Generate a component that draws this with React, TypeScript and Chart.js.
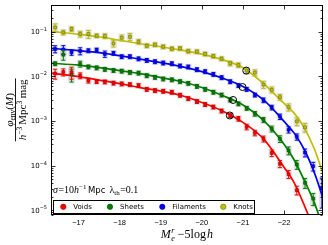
import React, { useEffect, useRef } from 'react';
import { Chart, registerables } from 'chart.js';
Chart.register(...registerables);

// ---- data ----
const mags = [-16.43,-16.63,-16.83,-17.04,-17.24,-17.44,-17.64,-17.85,-18.05,-18.25,-18.46,-18.66,-18.86,-19.06,-19.27,-19.47,-19.67,-19.88,-20.08,-20.28,-20.48,-20.69,-20.89,-21.09,-21.29,-21.50,-21.70,-21.90,-22.11,-22.31,-22.51,-22.71,-22.92];

const voids = [0.01155,0.01247,0.01234,0.01042,0.00805,0.00766,0.00754,0.00709,0.0068,0.00656,0.00623,0.00513,0.00482,0.00465,0.00442,0.00379,0.00319,0.00274,0.00235,0.00206,0.00168,0.00133,0.001125,0.000738,0.000542,0.000398,0.000192,0.00011,6.43e-5,2.82e-5];
const voidsErr = [0.25,0.18,0.3,0.15,0.12,0.1,0.1,0.1,0.1,0.1,0.1,0.1,0.1,0.1,0.1,0.1,0.1,0.1,0.1,0.1,0.1,0.1,0.12,0.14,0.14,0.15,0.17,0.18,0.2,0.22];

const sheets = [0.0193,0.0307,0.01097,0.019,0.01637,0.01556,0.0144,0.01361,0.01313,0.01234,0.01186,0.01042,0.00955,0.00879,0.0084,0.00766,0.00698,0.00598,0.00513,0.00442,0.00383,0.00296,0.00243,0.00193,0.001455,0.001059,0.000667,0.000398,0.000218,0.000106,4.11e-5,1.82e-5];
const sheetsErr = [0.1,0.25,0.32,0.15,0.1,0.1,0.1,0.1,0.1,0.1,0.1,0.1,0.1,0.1,0.1,0.1,0.1,0.1,0.1,0.1,0.1,0.1,0.1,0.1,0.12,0.13,0.15,0.17,0.2,0.22,0.25,0.3];

const filaments = [0.0411,0.0401,0.0345,0.0371,0.0377,0.039,0.0318,0.0331,0.0277,0.0277,0.0248,0.0229,0.0214,0.02,0.0193,0.01715,0.0163,0.01419,0.0128,0.01114,0.0094,0.00762,0.00624,0.00513,0.00383,0.00293,0.00201,0.001253,0.00064,0.000442,0.000196,9.7e-5,3.18e-5];
const filamentsErr = [0.18,0.22,0.14,0.18,0.1,0.1,0.16,0.1,0.1,0.1,0.1,0.1,0.1,0.1,0.1,0.1,0.1,0.1,0.1,0.1,0.1,0.1,0.1,0.1,0.1,0.12,0.12,0.14,0.16,0.16,0.2,0.22,0.65];

const knots = [0.1247,0.0965,0.1148,0.0889,0.0889,0.0814,0.0802,0.0548,0.0735,0.0773,0.0598,0.0487,0.0513,0.0463,0.0417,0.0424,0.0367,0.0358,0.0318,0.0284,0.0249,0.0196,0.0179,0.01347,0.01216,0.00656,0.005,0.00342,0.00204,0.00098,0.00072];
const knotsErr = [0.2,0.12,0.12,0.15,0.2,0.1,0.12,0.17,0.15,0.18,0.12,0.1,0.1,0.1,0.1,0.1,0.1,0.1,0.1,0.1,0.1,0.12,0.12,0.15,0.15,0.18,0.15,0.15,0.18,0.2,0.22];

const fitMags = [-16.3,-17,-17.5,-18,-18.5,-19,-19.5,-20,-20.5,-21,-21.5,-22,-22.25,-22.5,-22.75,-23];
const voidsFit = [0.01186,0.0099,0.00827,0.0069,0.00562,0.0047,0.00373,0.0026,0.00168,0.000931,0.000398,9.2e-5,4.05e-5,1.24e-5,3.26e-6,7.0e-7];
const sheetsFit = [0.0198,0.01787,0.01572,0.01347,0.01155,0.0094,0.00766,0.00562,0.00373,0.00229,0.00103,0.0003,0.000132,4.49e-5,1.37e-5,2.79e-6];
const filamentsFit = [0.0428,0.0377,0.034,0.0291,0.0243,0.0203,0.01656,0.0128,0.00916,0.00592,0.00296,0.00098,0.000528,0.000221,6.43e-5,1.31e-5];
const knotsFit = [0.1026,0.0879,0.0773,0.0646,0.0539,0.0462,0.0386,0.0315,0.0237,0.0157,0.0069,0.00247,0.00148,0.000684,0.000221,4.72e-5];

const mStar = [-20.68, -20.76, -20.99, -21.08];
const phiStar = [0.00133, 0.00296, 0.00577, 0.01347];

const seriesNames = ['Voids', 'Sheets', 'Filaments', 'Knots'];
const seriesColors = ['#ff0000', '#008000', '#0000ff', '#bfbf00'];
const seriesEdge = ['#990000', '#004d00', '#000099', '#6b6b00'];

const xTicks = [-17, -18, -19, -20, -21, -22];
const yTickExps = [-5, -4, -3, -2, -1];
const xRange = [-22.94, -16.33];
const yRange = [7.94e-6, 0.398];

const SERIF = '"Liberation Serif", "DejaVu Serif", serif';
const SANS = '"DejaVu Sans", sans-serif';

type Run = { t: string; f: string; dy?: number; dx?: number; noAdv?: boolean };

function runsWidth(ctx: CanvasRenderingContext2D, runs: Run[]) {
  let w = 0;
  for (const r of runs) {
    ctx.font = r.f;
    w += (r.dx || 0);
    if (!r.noAdv) w += ctx.measureText(r.t).width;
  }
  return w;
}
function drawRuns(ctx: CanvasRenderingContext2D, runs: Run[], x: number, y: number) {
  let cx = x;
  for (const r of runs) {
    ctx.font = r.f;
    cx += (r.dx || 0);
    ctx.fillText(r.t, cx, y + (r.dy || 0));
    if (!r.noAdv) cx += ctx.measureText(r.t).width;
  }
}

function clipArea(ctx: CanvasRenderingContext2D, a: any) {
  ctx.beginPath();
  ctx.rect(a.left, a.top, a.right - a.left, a.bottom - a.top);
  ctx.clip();
}

const decor = {
  id: 'decor',
  beforeDatasetsDraw(chart: any) {
    // light halo behind every error bar
    const ctx: CanvasRenderingContext2D = chart.ctx;
    const xs = chart.scales.x, ys = chart.scales.y;
    ctx.save();
    clipArea(ctx, chart.chartArea);
    ctx.fillStyle = 'rgba(160,160,160,0.3)';
    chart.data.datasets.forEach((ds: any) => {
      if (!ds.errs) return;
      ds.data.forEach((p: any, i: number) => {
        const e = ds.errs[i];
        const px = xs.getPixelForValue(p.x);
        const hi = ys.getPixelForValue(p.y * (1 + e));
        const lo = ys.getPixelForValue(p.y * (1 - e));
        ctx.fillRect(px - 3.2, hi - 1.3, 6.4, lo - hi + 2.6);
      });
    });
    ctx.restore();
  },
  beforeDatasetDraw(chart: any, args: any) {
    const ds = chart.data.datasets[args.index];
    if (!ds.errs) return;
    const ctx: CanvasRenderingContext2D = chart.ctx;
    const xs = chart.scales.x, ys = chart.scales.y;
    ctx.save();
    clipArea(ctx, chart.chartArea);
    ctx.strokeStyle = ds.errColor;
    ctx.lineWidth = 1;
    ctx.beginPath();
    ds.data.forEach((p: any, i: number) => {
      const e = ds.errs[i];
      const px = xs.getPixelForValue(p.x);
      const hi = ys.getPixelForValue(p.y * (1 + e));
      const lo = ys.getPixelForValue(p.y * (1 - e));
      ctx.moveTo(px, hi); ctx.lineTo(px, lo);
      ctx.moveTo(px - 2, hi); ctx.lineTo(px + 2, hi);
      ctx.moveTo(px - 2, lo); ctx.lineTo(px + 2, lo);
    });
    ctx.stroke();
    ctx.restore();
  },
  afterDraw(chart: any) {
    const ctx: CanvasRenderingContext2D = chart.ctx;
    const xs = chart.scales.x, ys = chart.scales.y;
    const a = chart.chartArea;
    const L = Math.round(a.left) + 0.5, R = Math.round(a.right) - 0.5;
    const T = Math.round(a.top) + 0.5, B = Math.round(a.bottom) - 0.5;
    ctx.save();
    // frame
    ctx.strokeStyle = '#000';
    ctx.lineWidth = 1;
    ctx.strokeRect(L, T, R - L, B - T);
    // ticks
    ctx.lineWidth = 0.8;
    ctx.beginPath();
    for (const t of xTicks) {
      const x = Math.round(xs.getPixelForValue(t)) + 0.5;
      ctx.moveTo(x, B); ctx.lineTo(x, B - 4);
      ctx.moveTo(x, T); ctx.lineTo(x, T + 4);
    }
    for (let e = -6; e <= 0; e++) {
      for (let m = 1; m <= 9; m++) {
        const v = m * Math.pow(10, e);
        if (v < yRange[0] || v > yRange[1]) continue;
        const y = Math.round(ys.getPixelForValue(v)) + 0.5;
        const len = m === 1 ? 4 : 2;
        ctx.moveTo(L, y); ctx.lineTo(L + len, y);
        ctx.moveTo(R, y); ctx.lineTo(R - len, y);
      }
    }
    ctx.stroke();
    // x tick labels
    ctx.fillStyle = '#000';
    ctx.textBaseline = 'alphabetic';
    ctx.textAlign = 'center';
    ctx.font = '7.5px "Liberation Sans", sans-serif';
    for (const t of xTicks) {
      const x = xs.getPixelForValue(t);
      ctx.fillText('\u2212' + Math.abs(t), x, 224.5);
    }
    // y tick labels
    ctx.textAlign = 'left';
    for (const e of yTickExps) {
      const y = ys.getPixelForValue(Math.pow(10, e));
      const runs: Run[] = [
        { t: '10', f: `7px ${SANS}` },
        { t: '\u2212' + Math.abs(e), f: `5px ${SANS}`, dy: -3.5 },
      ];
      const w = runsWidth(ctx, runs);
      drawRuns(ctx, runs, 47 - w, y + 2.5);
    }
    // x axis title
    const xt: Run[] = [
      { t: 'M', f: `italic 12px ${SERIF}` },
      { t: 'r', f: `italic 8px ${SERIF}`, dy: -5, noAdv: true, dx: 0.5 },
      { t: 'e', f: `italic 8px ${SERIF}`, dy: 3 },
      { t: '\u22125log', f: `12px ${SERIF}`, dx: 3 },
      { t: 'h', f: `italic 12px ${SERIF}`, dx: 1 },
    ];
    const xw = runsWidth(ctx, xt);
    drawRuns(ctx, xt, (a.left + a.right) / 2 - xw / 2, 238);
    // annotation
    const an: Run[] = [
      { t: '\u03c3', f: `italic 10px ${SERIF}` },
      { t: '=10', f: `10px ${SERIF}`, dx: 0.5 },
      { t: 'h', f: `italic 10px ${SERIF}` },
      { t: '\u22121', f: `7px ${SERIF}`, dy: -4 },
      { t: 'Mpc', f: `8.5px ${SANS}`, dx: 1.5 },
      { t: '\u03bb', f: `10px ${SERIF}`, dx: 4 },
      { t: 'th', f: `7px ${SERIF}`, dy: 2 },
      { t: '=0.1', f: `10px ${SERIF}`, dx: 0.5 },
    ];
    drawRuns(ctx, an, 53, 192.5);
    // legend
    ctx.fillStyle = '#fff';
    ctx.fillRect(53.5, 200.5, 201, 13);
    ctx.strokeStyle = '#000';
    ctx.lineWidth = 1;
    ctx.strokeRect(53.5, 200.5, 201, 13);
    const lx = [63.3, 110, 162.3, 223.3];
    ctx.textBaseline = 'middle';
    ctx.font = `7px ${SANS}`;
    seriesNames.forEach((n, i) => {
      ctx.beginPath();
      ctx.arc(lx[i], 206.8, 2.7, 0, Math.PI * 2);
      ctx.fillStyle = seriesColors[i];
      ctx.fill();
      ctx.lineWidth = 0.6;
      ctx.strokeStyle = seriesEdge[i];
      ctx.stroke();
      ctx.fillStyle = '#000';
      ctx.fillText(n, lx[i] + 10, 207);
    });
    // y axis title (rotated fraction)
    ctx.translate(15.5, (a.top + a.bottom) / 2);
    ctx.rotate(-Math.PI / 2);
    ctx.textBaseline = 'alphabetic';
    const num: Run[] = [
      { t: '\u03c6', f: `italic 11px ${SERIF}` },
      { t: 'env', f: `7.5px ${SERIF}`, dy: 2.5 },
      { t: '(', f: `11px ${SERIF}` },
      { t: 'M', f: `italic 11px ${SERIF}` },
      { t: ')', f: `11px ${SERIF}` },
    ];
    const den: Run[] = [
      { t: 'h', f: `italic 11px ${SERIF}` },
      { t: '\u22123', f: `7.5px ${SERIF}`, dy: -4.5 },
      { t: 'Mpc', f: `11px ${SERIF}`, dx: 2 },
      { t: '3', f: `7.5px ${SERIF}`, dy: -4.5 },
      { t: 'mag', f: `11px ${SERIF}`, dx: 2.5 },
    ];
    ctx.fillStyle = '#000';
    const nw = runsWidth(ctx, num);
    drawRuns(ctx, num, -nw / 2, -3);
    const dw = runsWidth(ctx, den);
    drawRuns(ctx, den, -dw / 2, 10.5);
    ctx.fillRect(-dw / 2 - 1, -0.5, dw + 2, 0.9);
    ctx.restore();
  },
};

export default function App() {
  const ref = useRef<HTMLCanvasElement | null>(null);
  useEffect(() => {
    document.body.style.margin = '0';
    const canvas = ref.current!;
    const series = [
      { v: voids, e: voidsErr, fit: voidsFit },
      { v: sheets, e: sheetsErr, fit: sheetsFit },
      { v: filaments, e: filamentsErr, fit: filamentsFit },
      { v: knots, e: knotsErr, fit: knotsFit },
    ];
    const datasets: any[] = [];
    series.forEach((s, i) => {
      datasets.push({
        label: seriesNames[i] + ' fit',
        data: fitMags.map((m, k) => ({ x: m, y: s.fit[k] })),
        borderColor: seriesColors[i],
        borderWidth: 1.7,
        pointRadius: 0,
        cubicInterpolationMode: 'monotone',
        fill: false,
        order: 3,
        clip: 0,
      });
    });
    series.forEach((s, i) => {
      datasets.push({
        label: seriesNames[i],
        data: s.v.map((v, k) => ({ x: mags[k], y: v })),
        showLine: false,
        pointStyle: 'rect',
        pointRadius: 2.1,
        pointBackgroundColor: seriesColors[i],
        pointBorderColor: seriesEdge[i],
        pointBorderWidth: 0.6,
        borderColor: seriesColors[i],
        errs: s.e,
        errColor: seriesColors[i],
        order: 2,
        clip: 0,
      });
    });
    datasets.push({
      label: 'M*',
      data: mStar.map((m, k) => ({ x: m, y: phiStar[k] })),
      showLine: false,
      pointStyle: 'circle',
      pointRadius: 3.5,
      pointBackgroundColor: 'rgba(0,0,0,0)',
      pointBorderColor: '#000',
      pointBorderWidth: 1,
      order: 1,
    });
    const chart = new Chart(canvas, {
      type: 'line',
      data: { datasets },
      options: {
        responsive: false,
        animation: false,
        devicePixelRatio: 1,
        events: [],
        layout: { padding: { left: 51, right: 5.3, top: 4, bottom: 30.3 } },
        plugins: { legend: { display: false }, tooltip: { enabled: false } },
        scales: {
          x: { type: 'linear', display: false, min: xRange[0], max: xRange[1], reverse: true },
          y: { type: 'logarithmic', display: false, min: yRange[0], max: yRange[1] },
        },
      } as any,
      plugins: [decor],
    });
    return () => chart.destroy();
  }, []);
  return (
    <div style={{ position: 'absolute', left: 0, top: 0, width: 328, height: 245, background: '#fff' }}>
      <canvas ref={ref} width={328} height={245} />
    </div>
  );
}
